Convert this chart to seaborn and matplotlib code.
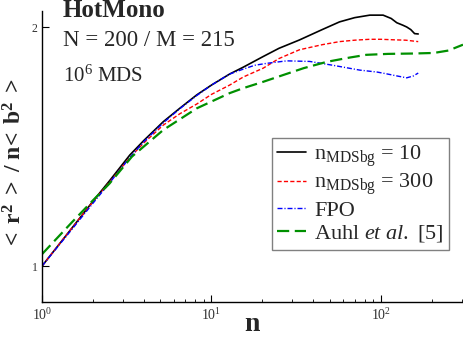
import numpy as np
import pandas as pd
import matplotlib
matplotlib.use('Agg')
import matplotlib.pyplot as plt
import matplotlib.ticker as mticker
import seaborn as sns

# curve data
black_n = [1, 1.5, 2, 2.5, 3.3, 4, 5.2, 6.5, 8.2, 10, 12.8, 15.4, 20.2, 25, 33, 45, 57, 70, 86, 103, 115, 124, 135, 142, 150, 158, 166]
black_y = [1.0, 1.116, 1.207, 1.28, 1.38, 1.44, 1.52, 1.58, 1.643, 1.69, 1.745, 1.78, 1.836, 1.88, 1.926, 1.985, 2.03, 2.055, 2.07, 2.07, 2.05, 2.025, 2.01, 2.0, 1.985, 1.962, 1.96]

red_n = [1, 1.5, 2, 2.5, 3.3, 4, 5.2, 6.5, 8.2, 10, 12.8, 15.4, 20.2, 25, 33, 45, 57, 70, 86, 100, 120, 140, 166]
red_y = [1.0, 1.116, 1.205, 1.275, 1.37, 1.43, 1.505, 1.555, 1.60, 1.645, 1.69, 1.73, 1.775, 1.825, 1.872, 1.90, 1.917, 1.925, 1.93, 1.93, 1.927, 1.925, 1.917]

blue_n = [1, 1.5, 2, 2.5, 3.3, 4, 5.2, 6.5, 8.2, 10, 12.8, 15.4, 18, 21.2, 27.8, 38, 52, 75, 95, 108, 125, 142, 155, 166]
blue_y = [1.0, 1.112, 1.2, 1.272, 1.37, 1.435, 1.515, 1.578, 1.64, 1.69, 1.745, 1.77, 1.79, 1.80, 1.813, 1.81, 1.79, 1.765, 1.755, 1.746, 1.735, 1.726, 1.735, 1.75]

green_n = [1, 1.5, 2, 2.5, 3.4, 5.2, 8.2, 12.8, 15.4, 20, 26.5, 35, 48, 65, 82, 110, 155, 205, 250, 305]
green_y = [1.035, 1.135, 1.21, 1.27, 1.374, 1.484, 1.58, 1.651, 1.675, 1.705, 1.74, 1.775, 1.808, 1.83, 1.845, 1.85, 1.852, 1.855, 1.868, 1.90]

labels = [r'n$_{\mathrm{MDSbg}}$ = 10', r'n$_{\mathrm{MDSbg}}$ = 300', 'FPO', r'Auhl $\mathit{et\ al.}$ [5]']

sns.set_style('ticks')
plt.rcParams['font.family'] = ['Liberation Serif', 'DejaVu Serif']
plt.rcParams['mathtext.fontset'] = 'custom'
plt.rcParams['mathtext.rm'] = 'Liberation Serif'
plt.rcParams['mathtext.it'] = 'Liberation Serif:italic'
plt.rcParams['mathtext.bf'] = 'Liberation Serif:bold'

fig = plt.figure(figsize=(4.63, 3.37), dpi=100)
ax = fig.add_axes([42 / 463, 35 / 337, 421 / 463, 291 / 337])

series = [
    (black_n, black_y, 'black', 1.2, '-'),
    (red_n, red_y, 'red', 1.0, (0, (3, 1.6))),
    (blue_n, blue_y, 'blue', 1.0, (0, (3.6, 1.4, 0.8, 1.4))),
    (green_n, green_y, '#009000', 1.6, (0, (5.5, 2.5))),
]
for (xs, ys, col, lw, ls), lab in zip(series, labels):
    df = pd.DataFrame({'n': xs, 'ratio': ys})
    sns.lineplot(data=df, x='n', y='ratio', color=col, linewidth=lw,
                 linestyle=ls, label=lab, ax=ax, errorbar=None)

ax.set_xscale('log')
ax.set_yscale('log')
ax.set_xlim(1, 305)
ax.set_ylim(0.901, 2.095)

ax.yaxis.set_major_locator(mticker.FixedLocator([1, 2]))
ax.yaxis.set_major_formatter(mticker.FixedFormatter(['1', '2']))
ax.yaxis.set_minor_locator(mticker.NullLocator())
ax.xaxis.set_minor_locator(mticker.LogLocator(base=10, subs=np.arange(2, 10)))
ax.tick_params(which='major', direction='in', length=5, width=0.8, colors='black', pad=3)
ax.tick_params(which='minor', direction='in', length=2.5, width=0.6, colors='black')
ax.tick_params(axis='x', labelsize=10, pad=4)
ax.tick_params(axis='y', labelsize=8.5)
for lbl in ax.get_xticklabels() + ax.get_yticklabels():
    lbl.set_color('#333333')

sns.despine(ax=ax)
for sp in ['left', 'bottom']:
    ax.spines[sp].set_linewidth(1.0)
    ax.spines[sp].set_color('black')

ax.set_xlabel('')
ax.set_ylabel('')
fig.text(252 / 463, 0.0, 'n', ha='center', va='bottom', fontsize=20, fontweight='bold')
fig.text(15 / 463, 1 - 163 / 337, r'$\mathbf{<\ r^{2}\ >\ /\ n\!<\ b^{2}\ >}$',
         rotation=90, ha='center', va='center', fontsize=17)

fig.text(63 / 463, 1 - 17 / 337, 'HotMono', fontsize=18, fontweight='bold', va='baseline')
fig.text(63 / 463, 1 - 46 / 337, 'N = 200 / M = 215', fontsize=16.5, va='baseline')
fig.text(63 / 463, 1 - 82 / 337, r'10$^{6}$ MDS', fontsize=15, va='baseline')

leg = ax.legend(loc='lower left', bbox_to_anchor=(0.546, 0.179), borderaxespad=0,
                fontsize=16, handlelength=1.3, handletextpad=0.35, labelspacing=0.12,
                borderpad=0.25, fancybox=False, framealpha=1, edgecolor='#808080')
leg.get_frame().set_linewidth(1.0)

fig.savefig('out.png', dpi=100)
